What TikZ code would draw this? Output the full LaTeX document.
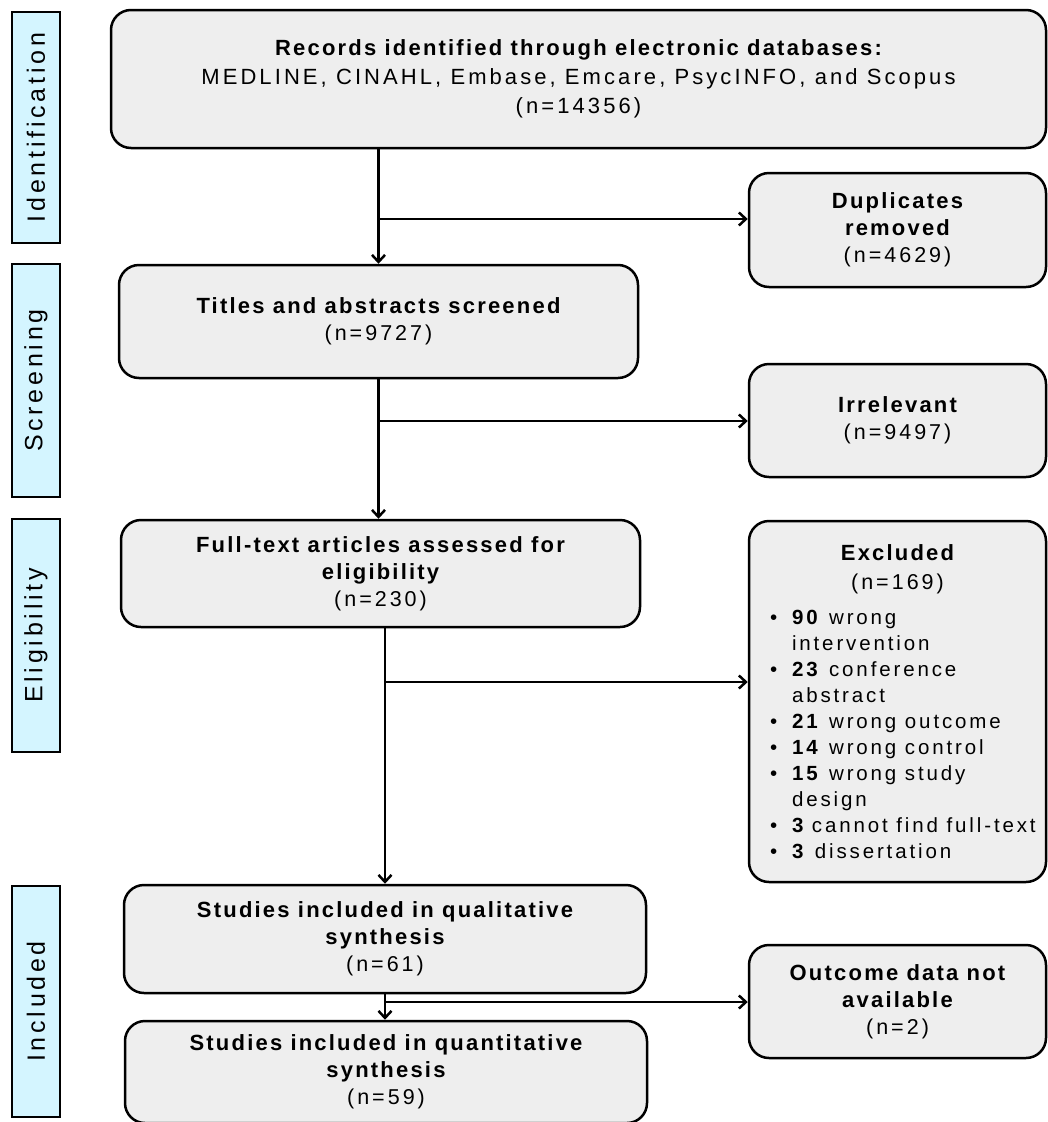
\documentclass[tikz,border=0pt]{standalone}
\usepackage{fontspec}
\setmainfont{Liberation Sans}[LetterSpace=14]
\newfontfamily\boldfam{Liberation Sans}[LetterSpace=10]
\newfontfamily\sidefam{Liberation Sans}[LetterSpace=15]
\usetikzlibrary{arrows.meta}
\definecolor{boxfill}{HTML}{EEEEEE}
\definecolor{sidefill}{HTML}{D4F5FF}
\newcommand\hb[1]{{\fontsize{22}{27}\boldfam\bfseries #1}}
\newcommand\exitem[2]{\par\hangindent=22pt\hangafter=1\noindent\makebox[22pt][l]{•}\textbf{#1}~#2}
\begin{document}
\begin{tikzpicture}[x=1pt,y=-1pt,
  flowbox/.style={draw=black, line width=2.5pt, fill=boxfill, rounded corners=20pt, align=center, inner sep=0pt, font=\fontsize{21.5}{27}\selectfont},
  sidelab/.style={draw=black, line width=2.5pt, fill=sidefill, rotate=90, minimum height=48pt, inner sep=0pt, font=\fontsize{25}{30}\sidefam},
  arr/.style={line width=2.5pt, -{Straight Barb[length=7pt,width=13pt]}}
]
\useasboundingbox (0,0) rectangle (1048,1122);
\fill[white] (0,0) rectangle (1048,1122);

% side labels
\node[sidelab, minimum width=231pt] (sid) at (36,127.5) {Identification};
\node[sidelab, minimum width=233pt] (sscr) at (36,380.5) {Screening};
\node[sidelab, minimum width=233pt] (selg) at (36,635.5) {Eligibility};
\node[sidelab, minimum width=231pt] (sinc) at (36,1001.5) {Included};

% main boxes
\node[flowbox, minimum width=935pt, minimum height=138pt, font=\fontsize{22}{29}\selectfont] (top) at (578.5,79)
  {\hb{Records identified through electronic databases:}\\MEDLINE, CINAHL, Embase, Emcare, PsycINFO, and Scopus\\(n=14356)};
\node[flowbox, minimum width=297pt, minimum height=114pt] (dup) at (897.5,230)
  {\hb{Duplicates}\\\hb{removed}\\(n=4629)};
\node[flowbox, minimum width=519pt, minimum height=113pt] (titles) at (378.5,321.5)
  {\hb{Titles and abstracts screened}\\(n=9727)};
\node[flowbox, minimum width=297pt, minimum height=113pt] (irr) at (897.5,420.5)
  {\hb{Irrelevant}\\(n=9497)};
\node[flowbox, minimum width=519pt, minimum height=107pt] (full) at (380.5,573.5)
  {\hb{Full-text articles assessed for}\\\hb{eligibility}\\(n=230)};
\node[flowbox, minimum width=297pt, minimum height=361pt] (excl) at (897.5,701.5)
  {\begin{minipage}{255pt}\centering\fontsize{21.5}{29}\selectfont
   \hb{Excluded}\\(n=169)\par\vspace{9pt}\raggedright\fontsize{20.5}{26}\selectfont
   \exitem{90}{wrong\newline intervention}
   \exitem{23}{conference\newline abstract}
   \exitem{21}{\mbox{wrong outcome}}
   \exitem{14}{\mbox{wrong control}}
   \exitem{15}{wrong study\newline design}
   \exitem{3}{\mbox{cannot find full-text}}
   \exitem{3}{\mbox{dissertation}}\par
   \end{minipage}};
\node[flowbox, minimum width=522pt, minimum height=108pt] (qual) at (385,939)
  {\hb{Studies included in qualitative}\\\hb{synthesis}\\(n=61)};
\node[flowbox, minimum width=297pt, minimum height=113pt] (out) at (897.5,1001.5)
  {\hb{Outcome data not}\\\hb{available}\\(n=2)};
\node[flowbox, minimum width=522pt, minimum height=102pt] (quant) at (386,1072)
  {\hb{Studies included in quantitative}\\\hb{synthesis}\\(n=59)};

% junctions
\coordinate (j1) at (378.5,219);
\coordinate (j2) at (378.5,421);
\coordinate (j3) at (385,682);
\coordinate (j4) at (385,1002);

% connectors
\draw[arr] (top.south -| titles.north) -- (titles.north);
\draw[arr] (j1) -- (j1 -| dup.west);
\draw[arr] (titles.south) -- (titles.south |- full.north);
\draw[arr] (j2) -- (j2 -| irr.west);
\draw[arr] (full.south -| qual.north) -- (qual.north);
\draw[arr] (j3) -- (j3 -| excl.west);
\draw[arr] (qual.south) -- (qual.south |- quant.north);
\draw[arr] (j4) -- (j4 -| out.west);
\end{tikzpicture}
\end{document}
